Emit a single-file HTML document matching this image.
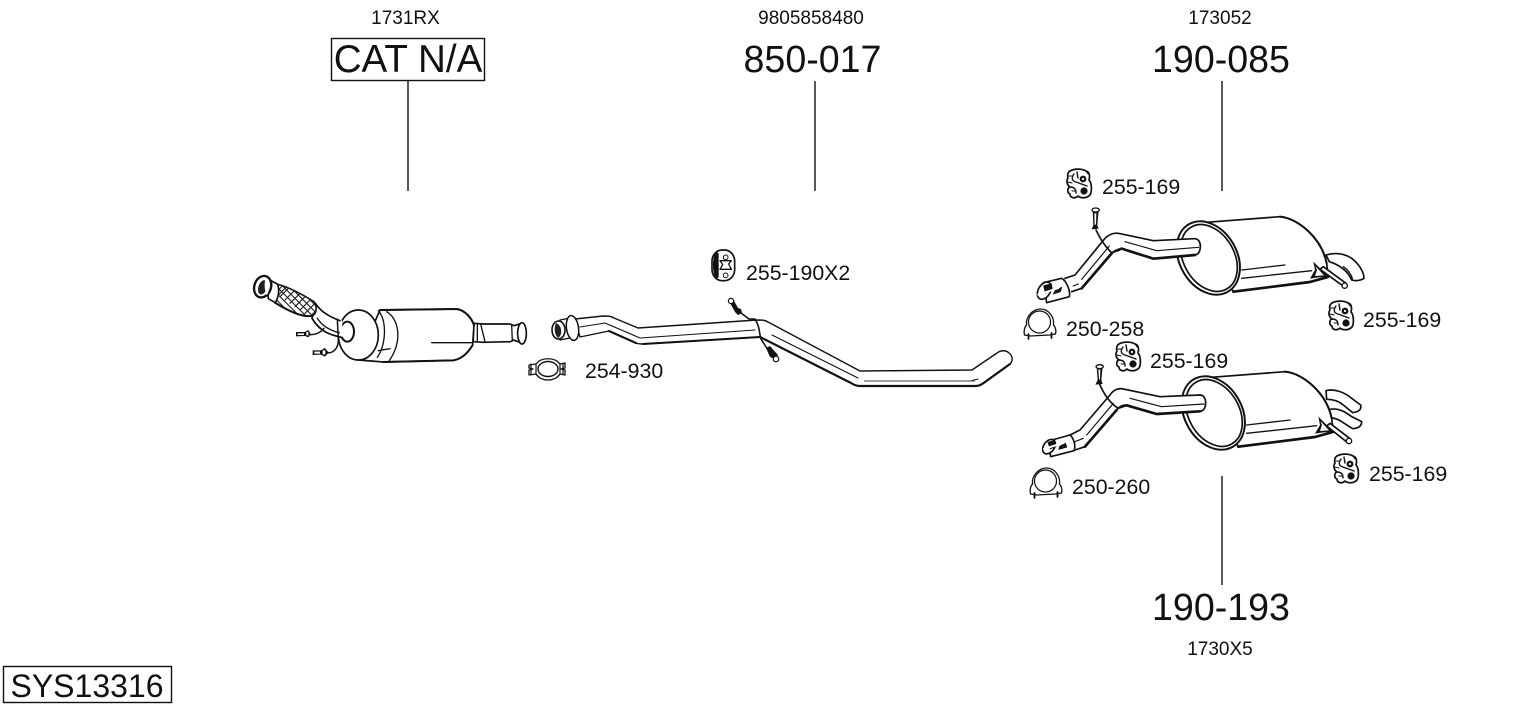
<!DOCTYPE html>
<html>
<head>
<meta charset="utf-8">
<style>
html,body{margin:0;padding:0;background:#fff;}
svg{display:block;}
text{font-family:"Liberation Sans",Arial,sans-serif;fill:#111;}
.s{font-size:19px;text-anchor:middle;}
.m{font-size:21.3px;}
.l{font-size:37.6px;text-anchor:middle;}
.p{fill:#fff;stroke:#111;stroke-width:5;stroke-linejoin:round;stroke-linecap:round;}
.n{fill:none;stroke:#111;stroke-width:4;stroke-linejoin:round;stroke-linecap:round;}
.h{fill:none;stroke:#111;stroke-width:8;stroke-linejoin:round;stroke-linecap:round;}
.t{fill:none;stroke:#222;stroke-width:3.4;stroke-linecap:round;}
.k{fill:#111;stroke:none;}
</style>
</head>
<body>
<svg width="1530" height="711" viewBox="0 0 1530 711" xmlns="http://www.w3.org/2000/svg">
<defs>
<g id="hanger">
  <path fill="#fff" stroke="#111" stroke-width="1.700" stroke-linejoin="round" d="M-9,-13 C-4,-16 4,-15 7,-13 C11,-12 11,-7 10,-4 C13,-1 13,8 11,11 C7,15 1,14 -1,12 C-4,15 -9,14 -9,10 C-12,9 -12,4 -9,3 C-12,1 -13,-3 -11,-6 C-12,-9 -11,-12 -9,-13 Z"/>
  <circle class="k" cx="4" cy="-5" r="3.400"/>
  <circle cx="4" cy="-5" r="1.100" fill="#fff"/>
  <circle class="k" cx="5" cy="7" r="3.600"/>
  <path class="n" d="M-5,-10 C-8,-6 -7,-3 -3,-2 L8,2 M-9,3 C-5,3 -3,5 -3,9 M-2,-12 L-1,-6" style="stroke-width:1.400"/>
  <path class="n" d="M-10,-8 L-7,-8 M-11,-2 L-7,-1 M-7,7 L-3,7 M7,-13 L9,-10" style="stroke-width:1"/>
</g>
<g id="clamp">
  <path fill="#fff" stroke="#111" stroke-width="1.300" stroke-linejoin="round" d="M-18,-4 L-11,-5 C-6,-12 8,-12 13,-5 L18,-6 L18,-1 L14,0 L18,1 L18,6 L13,5 C8,13 -6,13 -11,5 L-18,6 L-18,1 L-14,0 L-18,-1 Z"/>
  <ellipse cx="1" cy="0" rx="10" ry="7.500" fill="#fff" stroke="#111" stroke-width="1.400"/>
  <path class="n" style="stroke-width:1.200" d="M-16,-5 L-16,5 M16,-5 L16,5 M-11,-5 L-11,5 M13,-5 L13,5"/>
</g>
<g id="band">
  <path fill="#fff" stroke="#111" stroke-width="1.300" d="M-15,12 C-16,8 -15,4 -13,2 C-14,-6 -7,-14 1,-14 C9,-14 15,-6 14,2 C16,4 17,8 16,11 L10,12 L-9,13 Z"/>
  <ellipse cx="0" cy="-1" rx="11" ry="11" fill="#fff" stroke="#111" stroke-width="1.200"/>
  <path class="n" style="stroke-width:1.800" d="M-11,11 L-11,16 M12,10 L12,15"/>
</g>
<g id="muffler">
  <path class="p" d="M70,70 L330,50 C385,55 455,115 470,190 L475,232 L420,245 L190,275 Z"/>
  <path class="h" style="stroke-width:6" d="M330,50 C385,55 455,115 470,190"/>
  <path class="h" d="M190,275 L420,246 L470,232"/>
  <ellipse cx="115" cy="174" rx="86" ry="117" transform="rotate(-30 115 174)" fill="#fff" stroke="#111" stroke-width="6"/>
  <ellipse cx="117" cy="174" rx="76" ry="107" transform="rotate(-30 117 174)" fill="#fff" stroke="#111" stroke-width="5"/>
  <path class="n" d="M215,210 L345,195 M215,235 L425,212"/>
  <path class="k" d="M430,185 L475,230 L445,232 L420,236 L435,210 Z"/>
  <path d="M436,198 L462,226 L435,228 L441,210 Z" fill="#fff"/>
</g>
</defs>

<!-- text -->
<text class="s" x="405.500" y="24">1731RX</text>
<text class="s" x="811" y="24">9805858480</text>
<text class="s" x="1220" y="24">173052</text>
<text class="s" x="1220" y="655">1730X5</text>
<rect x="331.500" y="38.500" width="153" height="42" fill="none" stroke="#111" stroke-width="1.400"/>
<text x="408" y="72" style="font-size:38.6px;text-anchor:middle">CAT N/A</text>
<text class="l" x="812.500" y="72">850-017</text>
<text class="l" x="1221" y="72">190-085</text>
<text class="l" x="1221" y="620">190-193</text>
<rect x="3.500" y="666.500" width="168" height="36" fill="none" stroke="#111" stroke-width="1.400"/>
<text x="87" y="697" style="font-size:32px;text-anchor:middle">SYS13316</text>
<text class="m" x="746" y="280">255-190X2</text>
<text class="m" x="585" y="378">254-930</text>
<text class="m" x="1102" y="194">255-169</text>
<text class="m" x="1066" y="336">250-258</text>
<text class="m" x="1150" y="368">255-169</text>
<text class="m" x="1363" y="327">255-169</text>
<text class="m" x="1369" y="481">255-169</text>
<text class="m" x="1072" y="494">250-260</text>

<!-- leader lines -->
<g stroke="#111" stroke-width="1.400">
<line x1="408" y1="81" x2="408" y2="191"/>
<line x1="815" y1="81" x2="815" y2="191"/>
<line x1="1222" y1="81" x2="1222" y2="191"/>
<line x1="1222" y1="476" x2="1222" y2="585"/>
</g>

<!-- catalytic converter -->
<g transform="translate(240,260) scale(.33333)">
  <path class="p" d="M226,130 C240,150 255,165 300,182 L305,232 C270,225 240,215 216,175 Z"/>
  <path class="p" d="M110,72 C150,82 190,105 222,125 C232,140 230,160 218,167 C190,175 140,150 105,128 Z"/>
  <clipPath id="bc"><path d="M110,72 C150,82 190,105 222,125 C232,140 230,160 218,167 C190,175 140,150 105,128 Z"/></clipPath>
  <g clip-path="url(#bc)" class="t">
    <path d="M90,90 L160,20 M105,100 L175,30 M120,110 L190,40 M135,120 L205,50 M150,130 L220,60 M165,140 L235,70 M180,150 L250,80 M195,160 L265,90 M210,170 L280,100 M225,180 L295,110 M80,140 L150,70"/>
    <path d="M90,60 L220,190 M110,60 L240,190 M130,60 L260,190 M150,60 L280,190 M170,60 L300,190 M70,60 L200,190 M50,60 L180,190 M30,60 L160,190"/>
  </g>
  <path class="h" style="stroke-width:6" d="M105,128 C140,150 190,175 218,167"/>
  <path class="p" d="M80,55 L112,72 C120,90 115,112 106,128 L85,116 Z"/>
  <ellipse cx="68" cy="80" rx="25" ry="33" transform="rotate(18 68 80)" fill="#fff" stroke="#111" stroke-width="7"/>
  <ellipse cx="68" cy="82" rx="13" ry="22" transform="rotate(18 68 82)" fill="#222"/>
  <path d="M76,60 C88,65 90,95 80,105 C74,90 72,75 76,60 Z" fill="#fff"/>
  <!-- outlet -->
  <path class="p" d="M700,190 L730,192 L810,192 L822,197 L845,190 L848,250 L820,240 L812,245 L730,247 L700,245 Z"/>
  <path class="n" d="M712,190 L712,243 M722,192 L735,245 M815,194 L817,243"/>
  <ellipse cx="846" cy="220" rx="13" ry="32" fill="#fff" stroke="#111" stroke-width="5"/>
  <!-- body -->
  <path class="p" d="M420,150 L650,147 C675,150 695,175 702,195 L698,255 C680,285 660,298 640,301 L430,306 L355,300 Z"/>
  <path class="h" style="stroke-width:6" d="M420,150 L650,147 C675,150 695,175 702,195 M430,306 L640,301 C660,298 680,285 698,255"/>
  <path class="n" d="M575,248 L698,248 M702,195 L698,255"/>
  <ellipse cx="355" cy="225" rx="60" ry="75" fill="#fff" stroke="#111" stroke-width="5"/>
  <path class="n" d="M415,152 C440,180 440,250 412,292 M440,155 C475,175 490,240 448,302" style="stroke-width:4"/>
  <path class="n" d="M415,272 L450,266"/>
  <ellipse cx="322" cy="215" rx="20" ry="30" fill="#fff" stroke="#111" stroke-width="6"/>
  <path class="p" d="M240,155 L305,180 L312,232 L262,218 Z" style="stroke:none"/>
  <path class="n" style="stroke-width:5" d="M226,130 C240,150 255,165 300,182 M216,175 C240,215 270,225 305,232"/>
  <path class="n" d="M232,175 C245,195 265,210 298,218"/>
  <!-- sensors -->
  <path class="h" style="stroke-width:4.500" d="M205,224 C225,225 240,220 252,205 M262,278 C280,280 295,265 295,240 L292,178"/>
  <path class="k" d="M168,216 L195,216 L205,210 L212,222 L205,232 L195,228 L168,229 Z"/>
  <path d="M173,220 L192,220 L192,225 L173,225 Z M199,216 L205,216 L205,226 L199,226 Z" fill="#fff"/>
  <path class="k" d="M218,271 L242,271 L255,264 L266,278 L255,290 L242,284 L218,285 Z"/>
  <path d="M223,275 L240,275 L240,281 L223,281 Z M248,271 L256,271 L256,283 L248,283 Z" fill="#fff"/>
</g>

<!-- middle pipe -->
<path class="p" style="stroke-width:1.400" d="M575,319 L603,316 C608,316 611,316 614,318 L638,328 L757,320 C762,320 765,320 768,322 L860,371 L972,370 L997,353 C1001,350 1006,350 1009,353 C1013,356 1013,361 1010,364 L985,382 C981,385 979,386 975,386 L860,386 C857,386 854,385 851,383 L760,337 L643,344 C640,344 638,344 636,343 L609,331 L580,337 Z"/>
<path class="n" style="stroke-width:2.200" d="M760,337 L851,383 C854,385 857,386 860,386 L975,386 C979,386 981,385 985,382 L1010,364"/>
<path class="n" style="stroke-width:2.100" d="M643,344 L760,337 M609,331 L636,343"/>
<path class="n" style="stroke-width:1.100" d="M580,327 L605,323 L640,338 L755,330 M772,335 L858,378 M970,381 L978,379"/>
<path d="M864,381 L975,381" stroke="#666" stroke-width="1.300" fill="none"/>
<path class="p" style="stroke-width:1.400" d="M560,320 L570,318 L576,332 L570,338 L560,340 Z"/>
<ellipse cx="572.500" cy="328" rx="6" ry="12.500" transform="rotate(-8 572.500 328)" fill="#fff" stroke="#111" stroke-width="1.500"/>
<ellipse cx="558.500" cy="330" rx="6.500" ry="9" fill="#fff" stroke="#111" stroke-width="1.600"/>
<path d="M556,323 C562,325 563,335 558,338 C554,334 554,327 556,323 Z" fill="#222"/>
<!-- wires + bolts on mid pipe -->
<path class="n" style="stroke-width:1.600" d="M741,313 L749,319 L755,319 C760,327 759,333 761,339 L768,350"/>
<path class="k" d="M729,301 L733,299 L738,308 L741,309 L742,313 L738,315 L735,312 Z"/>
<circle cx="731" cy="301" r="2.600" fill="#fff" stroke="#111" stroke-width="1.200"/>
<path class="k" d="M766,348 L770,346 L778,355 L775,359 L770,357 Z"/>
<circle cx="776" cy="359" r="2.800" fill="#fff" stroke="#111" stroke-width="1.200"/>

<!-- hanger 255-190 -->
<g transform="translate(530,240) scale(.33333)">
  <rect x="546" y="30" width="68" height="92" rx="30" ry="34" fill="#fff" stroke="#111" stroke-width="5"/>
  <path d="M558,35 C546,50 546,100 558,117 L566,112 L566,40 Z" fill="#111"/>
  <path class="n" d="M570,62 L604,62 L596,72 L604,88 L570,88 L578,74 Z"/>
  <circle cx="587" cy="52" r="7" fill="#fff" stroke="#111" stroke-width="3"/>
  <circle cx="587" cy="106" r="7" fill="#fff" stroke="#111" stroke-width="3"/>
</g>

<use href="#clamp" transform="translate(547,369)"/>
<use href="#hanger" transform="translate(1079,184)"/>
<use href="#hanger" transform="translate(1128,357)"/>
<use href="#hanger" transform="translate(1341,316)"/>
<use href="#hanger" transform="translate(1346,469)"/>
<use href="#band" transform="translate(1039.500,323)"/>
<use href="#band" transform="translate(1045.500,482)"/>

<!-- upper rear muffler -->
<g transform="translate(1170,200) scale(.33333)">
  <path class="p" d="M468,165 C490,158 520,158 545,175 C565,190 582,215 582,235 C570,243 555,243 545,240 C535,215 510,195 478,185 Z"/>
  <path class="n" d="M520,200 C535,210 545,225 548,240"/>
  <use href="#muffler"/>
  <path class="p" d="M450,208 L460,200 L528,250 L522,260 Z"/>
  <circle cx="524" cy="257" r="8" fill="#fff" stroke="#111" stroke-width="4"/>
</g>

<!-- upper front pipe -->
<g transform="translate(1010,160) scale(.33333)">
  <path d="M165,355 L195,345 L285,235 C298,222 310,218 325,220 L430,242 L552,236 C566,235 572,248 571,262 C570,276 564,284 555,285 L430,296 L335,265 C322,268 312,272 305,280 L215,385 L185,395 Z" fill="#fff"/>
  <path class="n" style="stroke-width:5" d="M165,355 L195,345 L285,235 C298,222 310,218 325,220 L430,242 L552,236 C566,235 572,248 571,262 C570,276 564,284 555,285 L430,296 L335,265 C322,268 312,272 305,280 L215,385 L185,395"/>
  <path class="h" d="M430,296 L335,266 M305,280 L215,385 M430,296 L555,285"/>
  <path class="n" d="M190,378 L205,372 M215,358 L298,258 M345,245 L440,272 L566,262" style="stroke-width:3.500"/>
  <path class="p" d="M100,368 L155,355 C170,362 182,395 178,410 L110,428 Z"/>
  <ellipse cx="103" cy="392" rx="18" ry="28" transform="rotate(30 103 392)" fill="#fff" stroke="#111" stroke-width="5"/>
  <path class="k" d="M100,376 L125,370 L128,388 L105,402 Z M128,404 L152,396 L157,380 L135,390 Z"/>
  <path class="n" d="M85,404 L145,384" style="stroke:#fff;stroke-width:6"/>
  <path class="n" style="stroke-width:5" d="M258,210 C270,235 285,260 305,278 L330,270"/>
  <path class="k" d="M248,150 L266,150 L262,196 L266,206 L245,208 L250,196 Z"/>
  <path d="M253,160 L259,160 L258,194 L254,194 Z" fill="#fff"/>
  <ellipse cx="257" cy="150" rx="11" ry="6" fill="#fff" stroke="#111" stroke-width="4"/>
</g>

<!-- lower rear muffler -->
<g transform="translate(1170,360) scale(.33333)">
  <path class="p" d="M468,92 C495,85 525,98 545,115 L572,135 C575,150 565,155 548,158 L520,135 C505,122 490,118 470,118 Z"/>
  <path class="p" d="M475,150 C500,140 525,155 545,170 L575,185 C575,198 565,205 548,206 L515,185 C500,175 488,172 475,175 Z"/>
  <use href="#muffler" transform="translate(15,-15)"/>
  <path class="p" d="M470,198 L480,190 L540,236 L533,248 Z"/>
  <circle cx="537" cy="243" r="8" fill="#fff" stroke="#111" stroke-width="4"/>
</g>

<!-- lower front pipe -->
<g transform="translate(1020,340) scale(.33333)">
  <path d="M150,285 L180,270 L270,165 C280,150 295,143 310,147 L420,170 L540,165 C552,165 558,178 557,190 C556,205 550,213 540,214 L410,222 L320,195 C305,195 298,200 290,210 L195,320 L165,330 Z" fill="#fff"/>
  <path class="n" style="stroke-width:5" d="M150,285 L180,270 L270,165 C280,150 295,143 310,147 L420,170 L540,165 C552,165 558,178 557,190 C556,205 550,213 540,214 L410,222 L320,195 C305,195 298,200 290,210 L195,320 L165,330"/>
  <path class="h" d="M410,222 L320,196 M290,210 L195,320 M410,222 L540,214"/>
  <path class="n" d="M165,305 L190,295 M200,285 L280,190 M330,175 L425,200 L552,192" style="stroke-width:3.500"/>
  <path class="p" d="M85,303 L150,285 C162,295 168,320 162,332 L92,350 Z"/>
  <ellipse cx="87" cy="320" rx="16" ry="24" transform="rotate(35 87 320)" fill="#fff" stroke="#111" stroke-width="5"/>
  <path class="k" d="M82,306 L105,300 L110,320 L90,328 Z M115,330 L142,322 L137,308 L118,318 Z"/>
  <path class="n" d="M72,327 L132,308" style="stroke:#fff;stroke-width:6"/>
  <path class="n" style="stroke-width:5" d="M238,130 C250,160 270,190 295,205 L318,197"/>
  <path class="k" d="M230,80 L248,80 L244,120 L248,132 L226,134 L233,120 Z"/>
  <path d="M235,88 L241,88 L240,118 L237,118 Z" fill="#fff"/>
  <ellipse cx="239" cy="80" rx="11" ry="6" fill="#fff" stroke="#111" stroke-width="4"/>
</g>
</svg>
</body>
</html>
